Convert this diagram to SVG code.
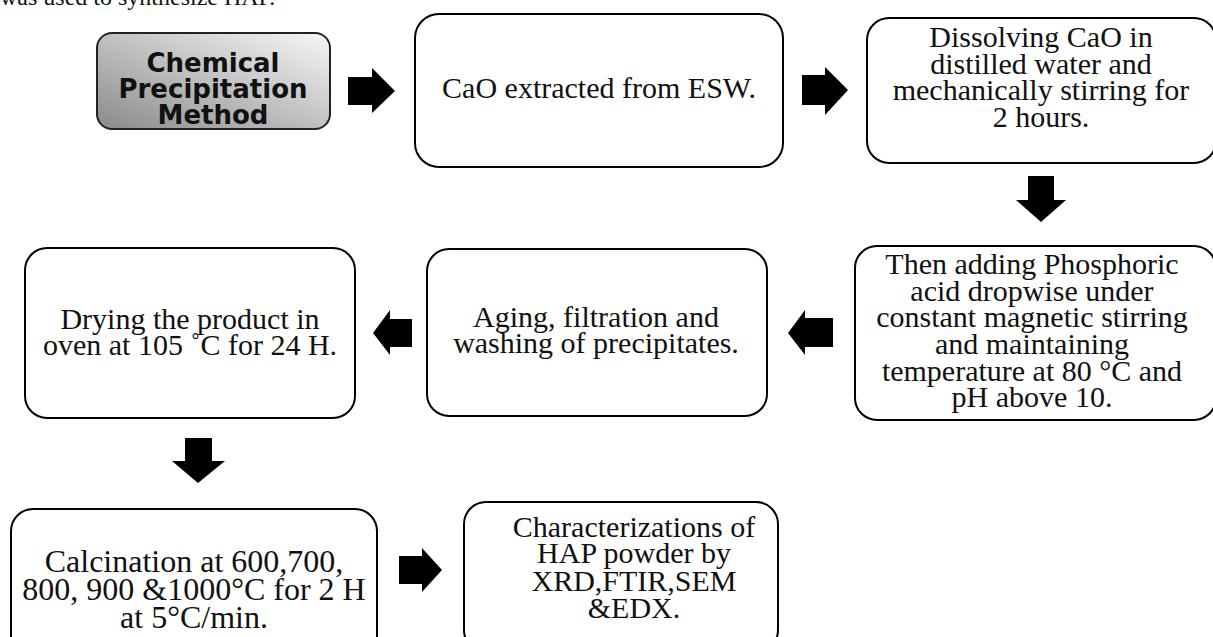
<svg xmlns="http://www.w3.org/2000/svg" width="1213" height="637" viewBox="0 0 1213 637">
<defs>
<linearGradient id="g1" x1="1" y1="0" x2="0" y2="1">
<stop offset="0" stop-color="#f7f7f7"/>
<stop offset="1" stop-color="#8a8a8a"/>
</linearGradient>
<style>
.box{fill:#fff;stroke:#000;stroke-width:2}
.t{font-family:"Liberation Serif","Times New Roman",serif;font-size:30px;fill:#111;text-anchor:middle}
.t32{font-size:32px}
.b{font-family:"DejaVu Sans",sans-serif;font-weight:bold;font-size:26px;fill:#111;text-anchor:middle}
.arr{fill:#000}
</style>
</defs>
<rect width="1213" height="637" fill="#fff"/>
<text x="0" y="5" style="font-family:'Liberation Serif',serif;font-size:24px;fill:#111">was used to synthesize HAP.</text>

<g id="n1">
<rect x="97" y="33" width="233" height="96" rx="15" fill="url(#g1)" stroke="#222" stroke-width="2"/>
<text class="b" x="213" y="72">Chemical</text>
<text class="b" x="213" y="98">Precipitation</text>
<text class="b" x="213" y="124">Method</text>
</g>
<g id="n2">
<rect class="box" x="415" y="14" width="368" height="153" rx="24"/>
<text class="t" x="599" y="98">CaO extracted from ESW.</text>
</g>
<g id="n3">
<rect class="box" x="867" y="18" width="349" height="145" rx="22"/>
<text class="t" x="1041" y="47">Dissolving CaO in</text>
<text class="t" x="1041" y="74">distilled water and</text>
<text class="t" x="1041" y="100">mechanically stirring for</text>
<text class="t" x="1041" y="127">2 hours.</text>
</g>
<g id="n4">
<rect class="box" x="855" y="246" width="361" height="174" rx="22"/>
<text class="t" x="1032" y="274">Then adding Phosphoric</text>
<text class="t" x="1032" y="301">acid dropwise under</text>
<text class="t" x="1032" y="327">constant magnetic stirring</text>
<text class="t" x="1032" y="354">and maintaining</text>
<text class="t" x="1032" y="381">temperature at 80 °C and</text>
<text class="t" x="1032" y="407">pH above 10.</text>
</g>
<g id="n5">
<rect class="box" x="427" y="249" width="340" height="167" rx="22"/>
<text class="t" x="596" y="327">Aging, filtration and</text>
<text class="t" x="596" y="353">washing of precipitates.</text>
</g>
<g id="n6">
<rect class="box" x="25" y="248" width="330" height="170" rx="22"/>
<text class="t" x="190" y="329">Drying the product in</text>
<text class="t" x="190" y="355">oven at 105 ˚C for 24 H.</text>
</g>
<g id="n7">
<rect class="box" x="11" y="509" width="366" height="150" rx="22"/>
<text class="t t32" x="194" y="572">Calcination at 600,700,</text>
<text class="t t32" x="194" y="600">800, 900 &amp;1000°C for 2 H</text>
<text class="t t32" x="194" y="628">at 5°C/min.</text>
</g>
<g id="n8">
<rect class="box" x="464" y="502" width="314" height="150" rx="22"/>
<text class="t" x="634" y="537">Characterizations of</text>
<text class="t" x="634" y="563">HAP powder by</text>
<text class="t" x="634" y="591">XRD,FTIR,SEM</text>
<text class="t" x="634" y="618">&amp;EDX.</text>
</g>

<g id="connectors">
<polygon class="arr" points="348,77 372,77 372,68 395,91 372,113 372,105 348,105"/>
<polygon class="arr" points="802,75 825,75 825,67 848,90 825,115 825,105 802,105"/>
<polygon class="arr" points="1028,176 1054,176 1054,200 1066,200 1041,222 1016,200 1028,200"/>
<polygon class="arr" points="833,318 805,318 805,310 788,333 805,355 805,347 833,347"/>
<polygon class="arr" points="412,319 390,319 390,310 373,333 390,355 390,347 412,347"/>
<polygon class="arr" points="185,438 212,438 212,461 225,461 198,483 172,461 185,461"/>
<polygon class="arr" points="399,556 422,556 422,548 442,570 422,592 422,584 399,584"/>
</g>
</svg>
